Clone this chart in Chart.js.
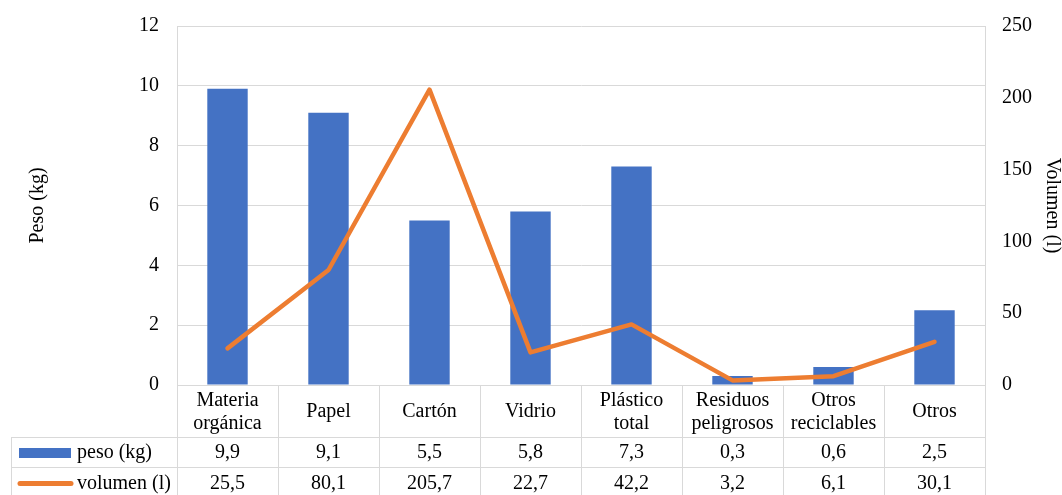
<!DOCTYPE html>
<html>
<head>
<meta charset="utf-8">
<script src="https://cdn.jsdelivr.net/npm/chart.js@4.4.1/dist/chart.umd.min.js"></script>
<style>
  html, body { margin: 0; padding: 0; background: #fff; }
  #wrap { width: 1062px; height: 495px; }
</style>
</head>
<body>
<div id="wrap"><canvas id="chart" width="1062" height="495"></canvas></div>
<script>
const categories = [
    ['Materia', 'orgánica'],
    ['Papel'],
    ['Cartón'],
    ['Vidrio'],
    ['Plástico', 'total'],
    ['Residuos', 'peligrosos'],
    ['Otros', 'reciclables'],
    ['Otros'],
];
const pesoKg = [9.9, 9.1, 5.5, 5.8, 7.3, 0.3, 0.6, 2.5];
const volumenL = [25.5, 80.1, 205.7, 22.7, 42.2, 3.2, 6.1, 30.1];
const pesoTicks = [0, 2, 4, 6, 8, 10, 12];
const volumenTicks = [0, 50, 100, 150, 200, 250];

const BLUE = '#4472C4';
const ORANGE = '#ED7D31';
const GRID = '#d9d9d9';
const FONT = 'Liberation Serif, Times New Roman, serif';
const FONT_SIZE = 20;

const fmt = v => v.toFixed(1).replace('.', ',');

// fixed axis widths, no extra label padding above/below the plot
const fitAxis = width => s => {
    s.width = width;
    s.paddingTop = 0;
    s.paddingBottom = 0;
};

// data table under the plot (category headers + one row per series)
const dataTable = {
    id: 'dataTable',
    afterDraw(chart) {
        const { ctx, chartArea } = chart;
        const x = chart.scales.x;
        const step = chartArea.width / categories.length;
        const top = chartArea.bottom;
        const row1 = top + 52;
        const row2 = row1 + 30;
        const bottom = row2 + 31;
        const leftEdge = 11;

        ctx.save();
        ctx.strokeStyle = GRID;
        ctx.lineWidth = 1;
        ctx.beginPath();
        for (let i = 0; i <= categories.length; i++) {
            const px = Math.round(chartArea.left + i * step) + 0.5;
            ctx.moveTo(px, top);
            ctx.lineTo(px, bottom);
        }
        ctx.moveTo(leftEdge + 0.5, row1);
        ctx.lineTo(leftEdge + 0.5, bottom);
        ctx.moveTo(leftEdge, row1 + 0.5);
        ctx.lineTo(chartArea.right, row1 + 0.5);
        ctx.moveTo(leftEdge, row2 + 0.5);
        ctx.lineTo(chartArea.right, row2 + 0.5);
        ctx.stroke();

        ctx.fillStyle = '#000';
        ctx.font = FONT_SIZE + 'px ' + FONT;
        ctx.textAlign = 'center';
        ctx.textBaseline = 'middle';
        const headMid = (top + row1) / 2 + 1;
        categories.forEach((lines, i) => {
            const cx = x.getPixelForValue(i);
            const lh = 22.5;
            lines.forEach((t, j) => {
                ctx.fillText(t, cx, headMid + (j - (lines.length - 1) / 2) * lh);
            });
            ctx.fillText(fmt(pesoKg[i]), cx, (row1 + row2) / 2 + 1);
            ctx.fillText(fmt(volumenL[i]), cx, (row2 + bottom) / 2 + 1);
        });

        // series keys
        ctx.fillStyle = BLUE;
        ctx.fillRect(19, row1 + 11, 52, 10);
        ctx.strokeStyle = ORANGE;
        ctx.lineWidth = 5;
        ctx.lineCap = 'round';
        ctx.beginPath();
        ctx.moveTo(20, (row2 + bottom) / 2 + 1);
        ctx.lineTo(71, (row2 + bottom) / 2 + 1);
        ctx.stroke();

        ctx.fillStyle = '#000';
        ctx.textAlign = 'left';
        ctx.fillText('peso (kg)', 77, (row1 + row2) / 2 + 1);
        ctx.fillText('volumen (l)', 77, (row2 + bottom) / 2 + 1);
        ctx.restore();
    }
};

Chart.defaults.font.family = FONT;
Chart.defaults.font.size = FONT_SIZE;
Chart.defaults.color = '#000';

new Chart(document.getElementById('chart'), {
    data: {
        labels: categories,
        datasets: [
            {
                type: 'line',
                label: 'volumen (l)',
                data: volumenL,
                yAxisID: 'y1',
                borderColor: ORANGE,
                borderWidth: 4.5,
                borderJoinStyle: 'round',
                borderCapStyle: 'round',
                pointRadius: 0,
                tension: 0,
                order: 0,
            },
            {
                type: 'bar',
                label: 'peso (kg)',
                data: pesoKg,
                yAxisID: 'y',
                backgroundColor: BLUE,
                barPercentage: 0.4,
                categoryPercentage: 1,
                order: 1,
            },
        ],
    },
    options: {
        responsive: false,
        animation: false,
        layout: { padding: { top: 26, bottom: 110, left: 0, right: 0 } },
        plugins: {
            legend: { display: false },
            tooltip: { enabled: false },
        },
        scales: {
            x: {
                display: false,
                offset: true,
            },
            y: {
                position: 'left',
                min: 0,
                max: 12,
                afterBuildTicks: s => { s.ticks = pesoTicks.map(v => ({ value: v })); },
                afterFit: fitAxis(177),
                ticks: { padding: 18 },
                grid: { color: GRID, drawTicks: false },
                border: { display: true, color: GRID },
                title: { display: true, text: 'Peso (kg)', padding: { top: 26, bottom: 0 } },
            },
            y1: {
                position: 'right',
                min: 0,
                max: 250,
                afterBuildTicks: s => { s.ticks = volumenTicks.map(v => ({ value: v })); },
                afterFit: fitAxis(77),
                ticks: { padding: 17 },
                grid: { display: false, drawTicks: false },
                border: { display: true, color: GRID },
                title: { display: true, text: 'Volumen (l)', padding: { top: -2, bottom: 0 } },
            },
        },
    },
    plugins: [dataTable],
});
</script>
</body>
</html>
